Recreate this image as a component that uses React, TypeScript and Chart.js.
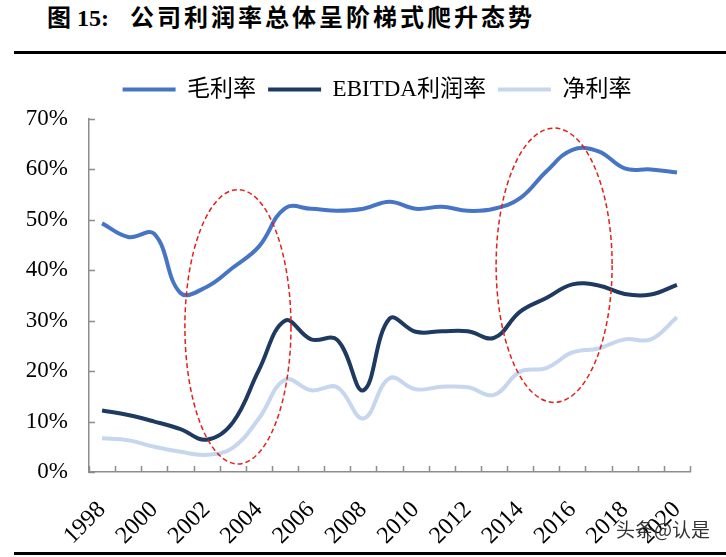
import { useEffect, useRef } from 'react';
import { Chart, registerables } from 'chart.js';

Chart.register(...registerables);

const years = [
  '1998', '1999', '2000', '2001', '2002', '2003', '2004', '2005', '2006', '2007', '2008', '2009',
  '2010', '2011', '2012', '2013', '2014', '2015', '2016', '2017', '2018', '2019', '2020',
];
const grossMargin = [
  49.3, 46.6, 47.2, 35.5, 36.7, 40.5, 44.7, 52.3, 52.2, 51.8, 52.2, 53.6,
  52.2, 52.6, 51.8, 52.2, 54.3, 59.6, 63.9, 63.6, 60.2, 60.0, 59.4,
];
const ebitdaMargin = [
  12.2, 11.3, 10.0, 8.5, 6.4, 9.8, 20.2, 30.0, 26.3, 26.2, 16.2, 30.4,
  27.8, 27.9, 27.9, 26.6, 31.8, 34.5, 37.2, 37.0, 35.3, 35.2, 37.1,
];
const netMargin = [
  6.7, 6.3, 5.0, 4.0, 3.4, 4.8, 10.6, 18.3, 16.2, 16.8, 10.6, 18.6,
  16.4, 16.9, 16.8, 15.3, 19.9, 20.6, 23.7, 24.5, 26.3, 26.3, 30.7,
];
const yTicks = [0, 10, 20, 30, 40, 50, 60, 70];

// 红色虚线椭圆标注（数据单位：类目序号 / 百分比）
const highlightCenterIndex = [5.2, 17.3];
const highlightHalfWidth = [2.03, 2.22];
const highlightCenterValue = [28.8, 41.0];
const highlightHalfHeight = [27.2, 27.2];

const SERIF = '"Liberation Serif", "Noto Sans CJK SC", serif';

const innerTicks = {
  id: 'innerTicks',
  afterDraw(chart: any) {
    const { ctx, chartArea, scales } = chart;
    const { left, right, bottom } = chartArea;
    ctx.save();
    ctx.strokeStyle = '#8c8c8c';
    ctx.lineWidth = 1.5;
    ctx.beginPath();
    yTicks.forEach((v) => {
      const y = Math.round(scales.y.getPixelForValue(v)) + 0.5;
      ctx.moveTo(left, y);
      ctx.lineTo(left + 6, y);
    });
    const step = (right - left) / years.length;
    for (let k = 0; k <= years.length; k++) {
      const x = Math.round(left + k * step) + 0.5;
      ctx.moveTo(x, bottom);
      ctx.lineTo(x, bottom - 6);
    }
    ctx.stroke();
    ctx.restore();
  },
};

const highlightEllipses = {
  id: 'highlightEllipses',
  afterDatasetsDraw(chart: any) {
    const { ctx, scales } = chart;
    const step = scales.x.getPixelForValue(1) - scales.x.getPixelForValue(0);
    ctx.save();
    ctx.strokeStyle = '#e0201c';
    ctx.lineWidth = 1.5;
    ctx.setLineDash([5, 3]);
    highlightCenterIndex.forEach((c, i) => {
      const cx = scales.x.getPixelForValue(0) + c * step;
      const cy = scales.y.getPixelForValue(highlightCenterValue[i]);
      const rx = highlightHalfWidth[i] * step;
      const ry = Math.abs(scales.y.getPixelForValue(highlightHalfHeight[i]) - scales.y.getPixelForValue(0));
      ctx.beginPath();
      ctx.ellipse(cx, cy, rx, ry, 0, 0, Math.PI * 2);
      ctx.stroke();
    });
    ctx.restore();
  },
};

// 图例下方留白，并整体右移到图表中部
const legendGap = {
  id: 'legendGap',
  beforeInit(chart: any) {
    const fit = chart.legend.fit;
    chart.legend.fit = function () {
      fit.bind(chart.legend)();
      this.height += 8;
    };
  },
  afterLayout(chart: any) {
    chart.legend.left += 32;
    chart.legend.right += 32;
  },
};

function MarginChart() {
  const chartRef = useRef<HTMLCanvasElement>(null);

  useEffect(() => {
    if (!chartRef.current) return;
    const chart = new Chart(chartRef.current, {
      type: 'line',
      data: {
        labels: years,
        datasets: [
          { label: '毛利率', data: grossMargin, borderColor: '#4775c5', backgroundColor: '#4775c5' },
          { label: 'EBITDA利润率', data: ebitdaMargin, borderColor: '#1f3a60', backgroundColor: '#1f3a60' },
          { label: '净利率', data: netMargin, borderColor: '#c5d6ee', backgroundColor: '#c5d6ee' },
        ].map((d) => ({ ...d, borderWidth: 4, pointRadius: 0, tension: 0.4, fill: false })),
      },
      options: {
        animation: false,
        responsive: true,
        maintainAspectRatio: false,
        layout: { padding: { top: 6, right: 36, left: 0, bottom: 0 } },
        scales: {
          x: {
            offset: true,
            grid: { display: false, offset: true },
            border: { display: true, color: '#8c8c8c', width: 1.5 },
            ticks: {
              autoSkip: false,
              minRotation: 45,
              maxRotation: 45,
              padding: 16,
              color: '#000',
              font: { family: SERIF, size: 24 },
              callback: (_v: any, i: number) => (i % 2 === 0 ? years[i] : ''),
            },
            afterFit: (scale: any) => {
              scale.height = 73;
            },
          },
          y: {
            min: 0,
            max: 70,
            grid: { display: false, drawTicks: false },
            border: { display: true, color: '#8c8c8c', width: 1.5 },
            ticks: {
              stepSize: 10,
              padding: 21,
              color: '#000',
              font: { family: SERIF, size: 23 },
              callback: (v: any) => `${v}%`,
            },
            afterFit: (scale: any) => {
              scale.width = 89;
            },
          },
        },
        plugins: {
          legend: {
            position: 'top',
            labels: {
              boxWidth: 53,
              boxHeight: 4,
              padding: 12,
              color: '#000',
              font: { family: SERIF, size: 23 },
              generateLabels: (c: any) =>
                Chart.defaults.plugins.legend.labels.generateLabels(c).map((l: any) => ({ ...l, lineWidth: 0 })),
            },
          },
          tooltip: { enabled: false },
        },
      },
      plugins: [innerTicks, highlightEllipses, legendGap],
    });
    return () => chart.destroy();
  }, []);

  return <canvas ref={chartRef} />;
}

export default function App() {
  return (
    <div style={{ position: 'absolute', left: 0, top: 0, width: 726, height: 557, background: '#fff', overflow: 'hidden' }}>
      <div
        style={{
          position: 'absolute',
          left: 47,
          top: 3,
          fontFamily: SERIF,
          fontWeight: 'bold',
          fontSize: 24,
          lineHeight: '30px',
          color: '#000',
          whiteSpace: 'nowrap',
        }}
      >
        <span>图 15:</span>
        <span style={{ position: 'absolute', left: 83, top: 0, letterSpacing: 3 }}>公司利润率总体呈阶梯式爬升态势</span>
      </div>
      <div style={{ position: 'absolute', left: 14, top: 51, width: 712, height: 3, background: '#000' }} />
      <div style={{ position: 'absolute', left: 0, top: 60, width: 726, height: 485 }}>
        <MarginChart />
      </div>
      <div style={{ position: 'absolute', left: 14, top: 552, width: 712, height: 3, background: '#000' }} />
      <div
        style={{
          position: 'absolute',
          left: 616,
          top: 515,
          fontFamily: '"Noto Sans CJK SC", sans-serif',
          fontSize: 19,
          color: '#333',
          whiteSpace: 'nowrap',
        }}
      >
        头条@认是
      </div>
    </div>
  );
}
